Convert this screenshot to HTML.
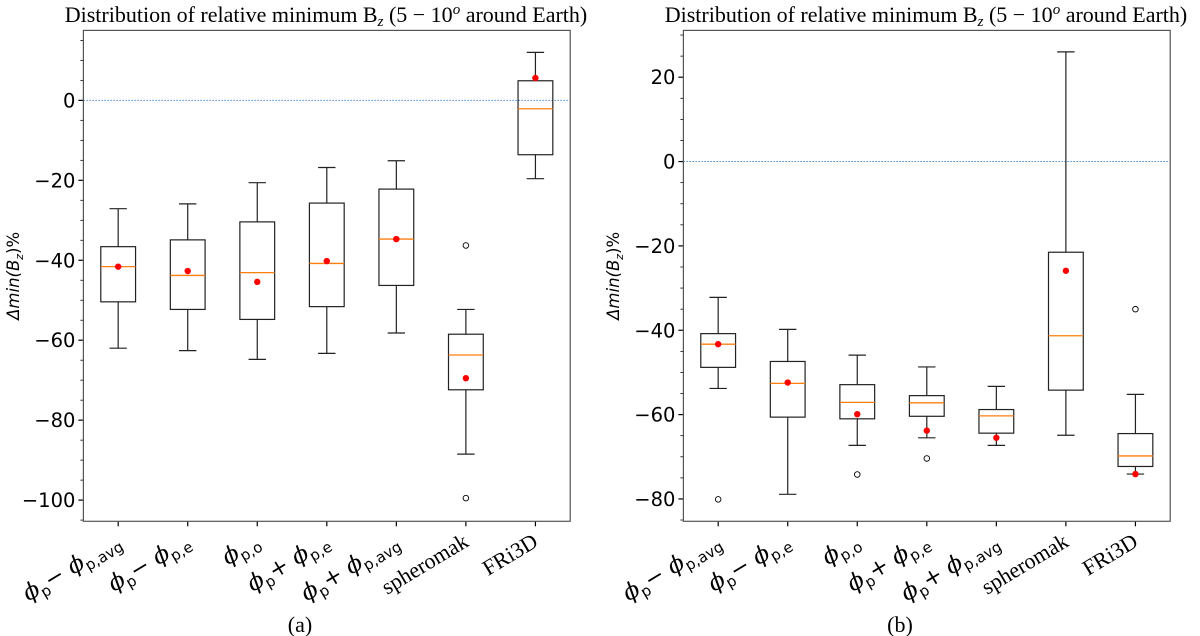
<!DOCTYPE html>
<html><head><meta charset="utf-8"><style>
body{margin:0;background:#fff;width:1200px;height:636px;overflow:hidden}
svg{display:block}
text{fill:#000}
</style></head><body>
<svg id="chart" width="1200" height="636" xmlns="http://www.w3.org/2000/svg"></svg>
<script>
const categories = ["ϕp−ϕp,avg","ϕp−ϕp,e","ϕp,o","ϕp+ϕp,e","ϕp+ϕp,avg","spheromak","FRi3D"];
// panel a
const aWhiskerHigh = [-27.1,-25.9,-20.6,-16.8,-15.1,-52.3,12];
const aQ3 = [-36.6,-34.9,-30.4,-25.7,-22.2,-58.5,4.9];
const aMedian = [-41.6,-43.8,-43.1,-40.8,-34.7,-63.7,-2.1];
const aMean = [-41.6,-42.7,-45.4,-40.2,-34.7,-69.5,5.6];
const aQ1 = [-50.4,-52.3,-54.8,-51.6,-46.3,-72.4,-13.6];
const aWhiskerLow = [-62,-62.6,-64.8,-63.3,-58.2,-88.5,-19.6];
const aFliers = [[],[],[],[],[],[-36.3,-99.5],[]];
const aTicks = [0,-20,-40,-60,-80,-100];
// panel b
const bWhiskerHigh = [-32.2,-39.8,-45.9,-48.7,-53.3,26,-55.2];
const bQ3 = [-40.8,-47.4,-52.9,-55.5,-58.8,-21.5,-64.5];
const bMedian = [-43.3,-52.6,-57.1,-57.2,-60.3,-41.3,-69.8];
const bMean = [-43.3,-52.4,-59.9,-63.8,-65.5,-25.9,-74.1];
const bQ1 = [-48.8,-60.6,-61,-60.4,-64.4,-54.2,-72.3];
const bWhiskerLow = [-53.8,-78.9,-67.3,-65.5,-67.3,-64.9,-74.1];
const bFliers = [[-80.1],[],[-74.2],[-70.4],[],[],[-35]];
const bTicks = [20,0,-20,-40,-60,-80];

const NS="http://www.w3.org/2000/svg";
const svg=document.getElementById('chart');
function mk(tag,attrs,parent){const e=document.createElementNS(NS,tag);for(const k in attrs)e.setAttribute(k,attrs[k]);(parent||svg).appendChild(e);return e;}

const labelParts=[
 [["ϕ",""],["p","s"],["− ϕ",""],["p,avg","s"]],
 [["ϕ",""],["p","s"],["− ϕ",""],["p,e","s"]],
 [["ϕ",""],["p,o","s"]],
 [["ϕ",""],["p","s"],["+ ϕ",""],["p,e","s"]],
 [["ϕ",""],["p","s"],["+ ϕ",""],["p,avg","s"]],
 [["spheromak","r"]],
 [["FRi3D","r"]]
];

function panel(ox,name,yTop,yBot,data,ticks,caption){
  const L=ox+83.4,R=ox+570.2,T=30.4,B=521.3;
  const g=mk('g',{});
  
  
  const y=v=>T+(yTop-v)/(yTop-yBot)*(B-T);
  const x=i=>L+(i+1-0.5)/7*(R-L);
  const bw=0.25/7*(R-L);
  const t=mk('text',{x:ox+326,y:22,'text-anchor':'middle','font-family':'Liberation Serif, serif','font-size':'22'},g);
  
  t.innerHTML='Distribution of relative minimum B<tspan font-style="italic" font-size="15" dy="4">z</tspan><tspan dy="-4"> (5 − 10</tspan><tspan font-style="italic" font-size="15" dy="-8">o</tspan><tspan dy="8"> around Earth)</tspan>';
  const zl=mk('line',{x1:L,x2:R,y1:y(0),y2:y(0),stroke:'#4a90d0','stroke-width':1,'stroke-dasharray':'1.5,1.5'},g);
  
  for(let v=Math.ceil(yBot/5)*5;v<=yTop;v+=5){
    const major=ticks.includes(v);
    mk('line',{x1:L,x2:L-(major?5:3),y1:y(v),y2:y(v),stroke:'#000','stroke-width':major?1.2:0.8},g);
  }
  ticks.forEach(v=>{
    const tl=mk('text',{x:L-8,y:y(v)+7,'text-anchor':'end','font-family':'DejaVu Sans, sans-serif','font-size':'19.5'},g);
    
    tl.textContent=(v<0?'−':'')+Math.abs(v);
  });
  const yl=mk('text',{transform:`translate(${ox+19},${(T+B)/2}) rotate(-90)`,'text-anchor':'middle','font-family':'DejaVu Sans, sans-serif','font-size':'16.5','font-style':'italic'},g);
  
  yl.innerHTML='Δmin(B<tspan font-size="11" dy="4">z</tspan><tspan dy="-4" font-style="normal">)%</tspan>';
  categories.forEach((c,i)=>{
    const cx=x(i);
    const bx=mk('g',{},g);
    
    const sw=1.2;
    mk('line',{x1:cx,x2:cx,y1:y(data.wh[i]),y2:y(data.q3[i]),stroke:'#222','stroke-width':sw},bx);
    mk('line',{x1:cx,x2:cx,y1:y(data.q1[i]),y2:y(data.wl[i]),stroke:'#222','stroke-width':sw},bx);
    mk('line',{x1:cx-bw/2,x2:cx+bw/2,y1:y(data.wh[i]),y2:y(data.wh[i]),stroke:'#222','stroke-width':sw},bx);
    mk('line',{x1:cx-bw/2,x2:cx+bw/2,y1:y(data.wl[i]),y2:y(data.wl[i]),stroke:'#222','stroke-width':sw},bx);
    mk('rect',{x:cx-bw,y:y(data.q3[i]),width:2*bw,height:y(data.q1[i])-y(data.q3[i]),fill:'none',stroke:'#222','stroke-width':sw},bx);
    mk('line',{x1:cx-bw,x2:cx+bw,y1:y(data.med[i]),y2:y(data.med[i]),stroke:'#ff7f0e','stroke-width':1.3},bx);
    data.fl[i].forEach(f=>mk('circle',{cx:cx,cy:y(f),r:2.8,fill:'none',stroke:'#000','stroke-width':0.9},bx));
    mk('circle',{cx:cx,cy:y(data.mean[i]),r:3.2,fill:'#ff0000'},bx);
    mk('line',{x1:cx,x2:cx,y1:B,y2:B+5,stroke:'#000','stroke-width':1.2},g);
    const roman=labelParts[i][0][1]=='r';
    const tx=mk('text',{transform:`translate(${cx+4},${B+24}) rotate(-31)`,'text-anchor':'end','font-family':roman?'Liberation Serif, serif':'DejaVu Serif, serif','font-size':roman?'22':'23','font-style':roman?'normal':'italic'},g);
    
    let html='';let lastSub=false;
    labelParts[i].forEach(p=>{
      if(p[1]=='s'){html+=`<tspan font-family="DejaVu Sans, sans-serif" font-style="normal" font-size="15" dy="5">${p[0]}</tspan>`;lastSub=true;}
      else{html+=`<tspan dy="${lastSub?-5:0}">${p[0]}</tspan>`;lastSub=false;}
    });
    if(lastSub)html+='<tspan dy="-5"></tspan>';
    tx.innerHTML=html;
  });
  const fr=mk('rect',{x:L,y:T,width:R-L,height:B-T,fill:'none',stroke:'#555','stroke-width':1.2},g);
  
  const cp=mk('text',{x:ox+300,y:632,'text-anchor':'middle','font-family':'Liberation Serif, serif','font-size':'22'},g);
  
  cp.textContent=caption;
}
panel(0,'panel-a',17.5,-105.3,{wh:aWhiskerHigh,q3:aQ3,med:aMedian,mean:aMean,q1:aQ1,wl:aWhiskerLow,fl:aFliers},aTicks,'(a)');
panel(600,'panel-b',31.1,-85.3,{wh:bWhiskerHigh,q3:bQ3,med:bMedian,mean:bMean,q1:bQ1,wl:bWhiskerLow,fl:bFliers},bTicks,'(b)');
</script>
</body></html>
